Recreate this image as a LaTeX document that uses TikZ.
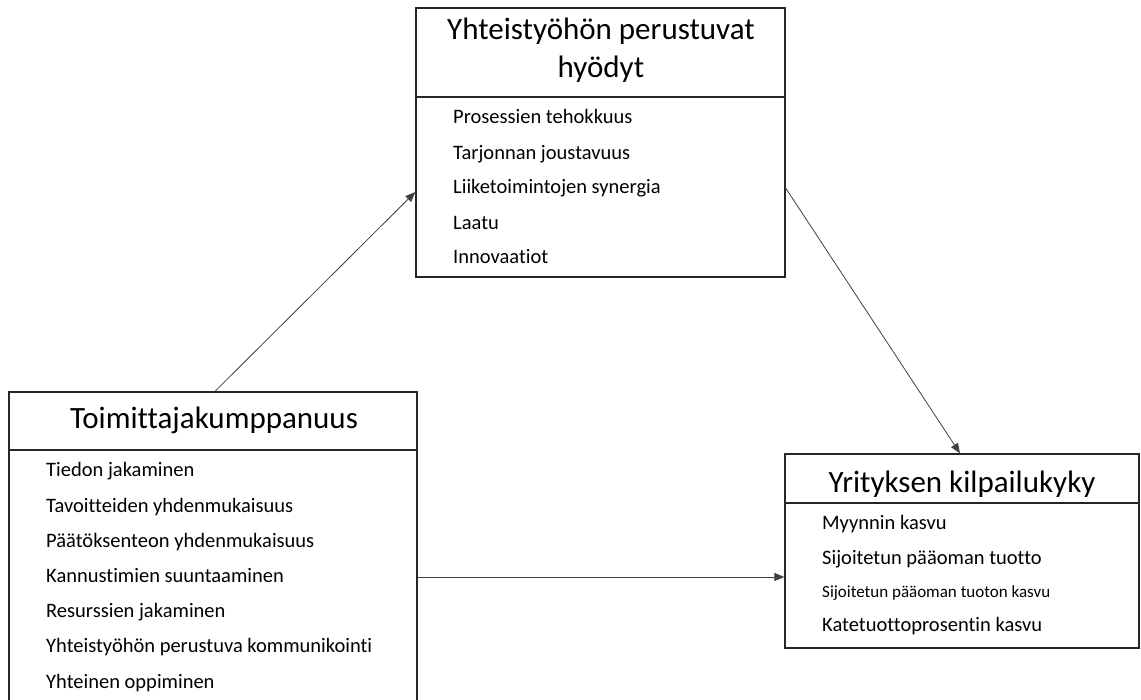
\documentclass[tikz,border=0pt]{standalone}
\usepackage{fontspec}
\setmainfont{Carlito}[Ligatures={NoCommon}]
\usetikzlibrary{arrows.meta}
\begin{document}
\begin{tikzpicture}[x=1pt,y=-1pt,
  box/.style={draw=black!85, line width=1.3pt, fill=white, inner sep=0pt},
  divider/.style={draw=black!85, line width=1.3pt},
  title/.style={font=\fontsize{31}{38}\selectfont, align=center, inner sep=0pt},
  item/.style={font=\fontsize{20.5}{24}\selectfont, anchor=west, inner sep=0pt, text height=0.75em, text depth=0.25em},
  smallitem/.style={item, font=\fontsize{17}{20}\selectfont},
  link/.style={draw=black!75, line width=0.8pt, -{Triangle[length=10pt,width=8pt]}}]
\useasboundingbox (0,0) rectangle (1141,700);
\clip (0,0) rectangle (1141,700);

% benefits box (top)
\node[box, minimum width=369pt, minimum height=269pt] (ben) at (600.5,142.5) {};
\draw[divider] (416,97) -- (785,97);
\node[title] (benT) at (601,50) {Yhteistyöhön perustuvat\\hyödyt};
\node[item] (b1) at (453,121) {Prosessien tehokkuus};
\node[item] (b2) at (453,157) {Tarjonnan joustavuus};
\node[item] (b3) at (453,191) {Liiketoimintojen synergia};
\node[item] (b4) at (453,227) {Laatu};
\node[item] (b5) at (453,261) {Innovaatiot};

% supplier partnership box (bottom left)
\node[box, minimum width=408pt, minimum height=318pt] (sup) at (213,551) {};
\draw[divider] (9,450) -- (417,450);
\node[title] (supT) at (214,420) {Toimittajakumppanuus};
\node[item] (s1) at (46,474) {Tiedon jakaminen};
\node[item] (s2) at (46,510) {Tavoitteiden yhdenmukaisuus};
\node[item] (s3) at (46,545) {Päätöksenteon yhdenmukaisuus};
\node[item] (s4) at (46,580) {Kannustimien suuntaaminen};
\node[item] (s5) at (46,615) {Resurssien jakaminen};
\node[item] (s6) at (46,650) {Yhteistyöhön perustuva kommunikointi};
\node[item] (s7) at (46,686) {Yhteinen oppiminen};

% competitiveness box (bottom right)
\node[box, minimum width=354pt, minimum height=194pt] (comp) at (962,551) {};
\draw[divider] (785,503) -- (1139,503);
\node[title] (compT) at (962,484) {Yrityksen kilpailukyky};
\node[item] (c1) at (822,527) {Myynnin kasvu};
\node[item] (c2) at (822,562) {Sijoitetun pääoman tuotto};
\node[smallitem] (c3) at (822,595) {Sijoitetun pääoman tuoton kasvu};
\node[item] (c4) at (822,629) {Katetuottoprosentin kasvu};

% connectors
\draw[link] ([xshift=2pt]sup.north) -- ([yshift=-49.5pt]ben.west);
\draw[link] ([yshift=-45.5pt]ben.east) -- ([xshift=-2pt]comp.north);
\draw[link] ([yshift=-26pt]sup.east) -- ([yshift=-26pt]comp.west);
\end{tikzpicture}
\end{document}
